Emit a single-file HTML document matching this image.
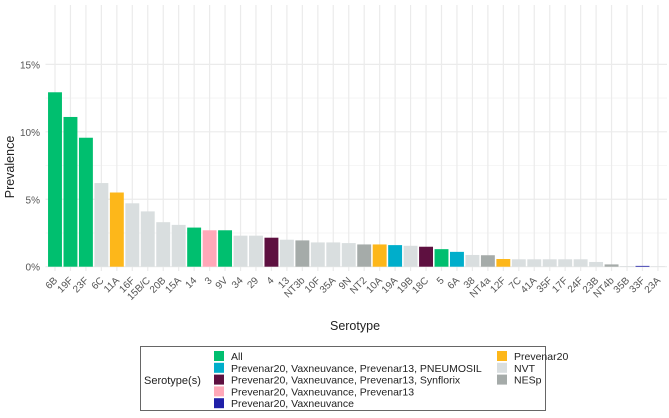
<!DOCTYPE html>
<html><head><meta charset="utf-8"><style>
body{margin:0;background:#fff;font-family:"Liberation Sans",sans-serif;}
svg text{font-family:"Liberation Sans",sans-serif;}
</style></head><body>
<svg id="chart" width="669" height="413" xmlns="http://www.w3.org/2000/svg">
<g id="grid"></g>
<g id="bars"></g>
<g id="yaxis"></g>
<g id="xaxis"></g>
<text x="14" y="167" transform="rotate(-90 14 167)" text-anchor="middle" font-size="12.5" fill="#222">Prevalence</text>
<text x="355" y="330" text-anchor="middle" font-size="12.5" fill="#222">Serotype</text>
<g>
<rect x="140.5" y="346.5" width="405" height="64" fill="#fff" stroke="#666"/>
<text x="144" y="384" font-size="11" fill="#222">Serotype(s)</text>
<g id="legend-items"></g>
</g>
</svg>
<script>
const categories=["6B","19F","23F","6C","11A","16F","15B/C","20B","15A","14","3","9V","34","29","4","13","NT3b","10F","35A","9N","NT2","10A","19A","19B","18C","5","6A","38","NT4a","12F","7C","41A","35F","17F","24F","23B","NT4b","35B","33F","23A"];
const prevalence=[12.93,11.1,9.56,6.2,5.5,4.7,4.1,3.3,3.1,2.9,2.7,2.7,2.3,2.3,2.15,2.0,1.95,1.8,1.8,1.75,1.65,1.65,1.6,1.55,1.48,1.3,1.1,0.87,0.85,0.57,0.55,0.55,0.55,0.55,0.55,0.35,0.17,0.05,0.06,0.03];
const groups=["All","All","All","NVT","Prevenar20","NVT","NVT","NVT","NVT","All","P3","All","NVT","NVT","P4","NVT","NESp","NVT","NVT","NVT","NESp","Prevenar20","P1","NVT","P4","All","P1","NVT","NESp","Prevenar20","NVT","NVT","NVT","NVT","NVT","NVT","NESp","NVT","P2","NVT"];
const yTicks=[0,5,10,15];
const yTickLabels=["0%","5%","10%","15%"];
const legendKeys=["All","P1","P4","P3","P2","Prevenar20","NVT","NESp"];
const legendLabels=["All","Prevenar20, Vaxneuvance, Prevenar13, PNEUMOSIL","Prevenar20, Vaxneuvance, Prevenar13, Synflorix","Prevenar20, Vaxneuvance, Prevenar13","Prevenar20, Vaxneuvance","Prevenar20","NVT","NESp"];
const colors={All:"#00BF6F",P1:"#00AECB",P4:"#5E1040",P3:"#FFA8B8",P2:"#2020A8",Prevenar20:"#FDB71A",NVT:"#D9DEDF",NESp:"#A5ABA9"};
const NS="http://www.w3.org/2000/svg";
const step=15.46, x0=55;
const xs=i=>x0+i*step;
const ys=v=>266.7-v*13.49;
function mk(tag,attrs,parent){const e=document.createElementNS(NS,tag);for(const k in attrs)e.setAttribute(k,attrs[k]);parent.appendChild(e);return e;}
const grid=document.getElementById('grid');
const L=45.5,R=667,T=5;
[2.5,7.5,12.5].forEach(v=>{const l=mk('line',{x1:L,x2:R,y1:ys(v),y2:ys(v),stroke:"#F3F3F3","stroke-width":0.8},grid);

});
yTicks.forEach(v=>{const l=mk('line',{x1:L,x2:R,y1:ys(v),y2:ys(v),stroke:"#EBEBEB","stroke-width":1.2},grid);

});
categories.forEach((c,i)=>{const l=mk('line',{x1:xs(i),x2:xs(i),y1:T,y2:271,stroke:"#EBEBEB","stroke-width":1.2},grid);

});
const bars=document.getElementById('bars');
const bw=step*0.9;
categories.forEach((c,i)=>{const v=prevalence[i];const r=mk('rect',{x:xs(i)-bw/2,y:ys(v),width:bw,height:ys(0)-ys(v),fill:colors[groups[i]]},bars);

});
const ya=document.getElementById('yaxis');
yTicks.forEach((v,i)=>{const t=mk('text',{x:40,y:ys(v)+4,"text-anchor":"end","font-size":10,fill:"#555"},ya);t.textContent=yTickLabels[i];

});
const xa=document.getElementById('xaxis');
categories.forEach((c,i)=>{const x=xs(i)+3,y=281;const t=mk('text',{x:x,y:y,"text-anchor":"end","font-size":10,fill:"#555",transform:`rotate(-45 ${x} ${y})`},xa);t.textContent=c;

});
const li=document.getElementById('legend-items');
legendKeys.forEach((k,i)=>{const col=i<5?0:1,row=i<5?i:i-5;const kx=col?497:214,ty=351+row*11.8;
const r=mk('rect',{x:kx,y:ty,width:10,height:10,fill:colors[k]},li);


const t=mk('text',{x:kx+17,y:ty+9,"font-size":10.5,fill:"#222"},li);t.textContent=legendLabels[i];

});
</script>
</body></html>
